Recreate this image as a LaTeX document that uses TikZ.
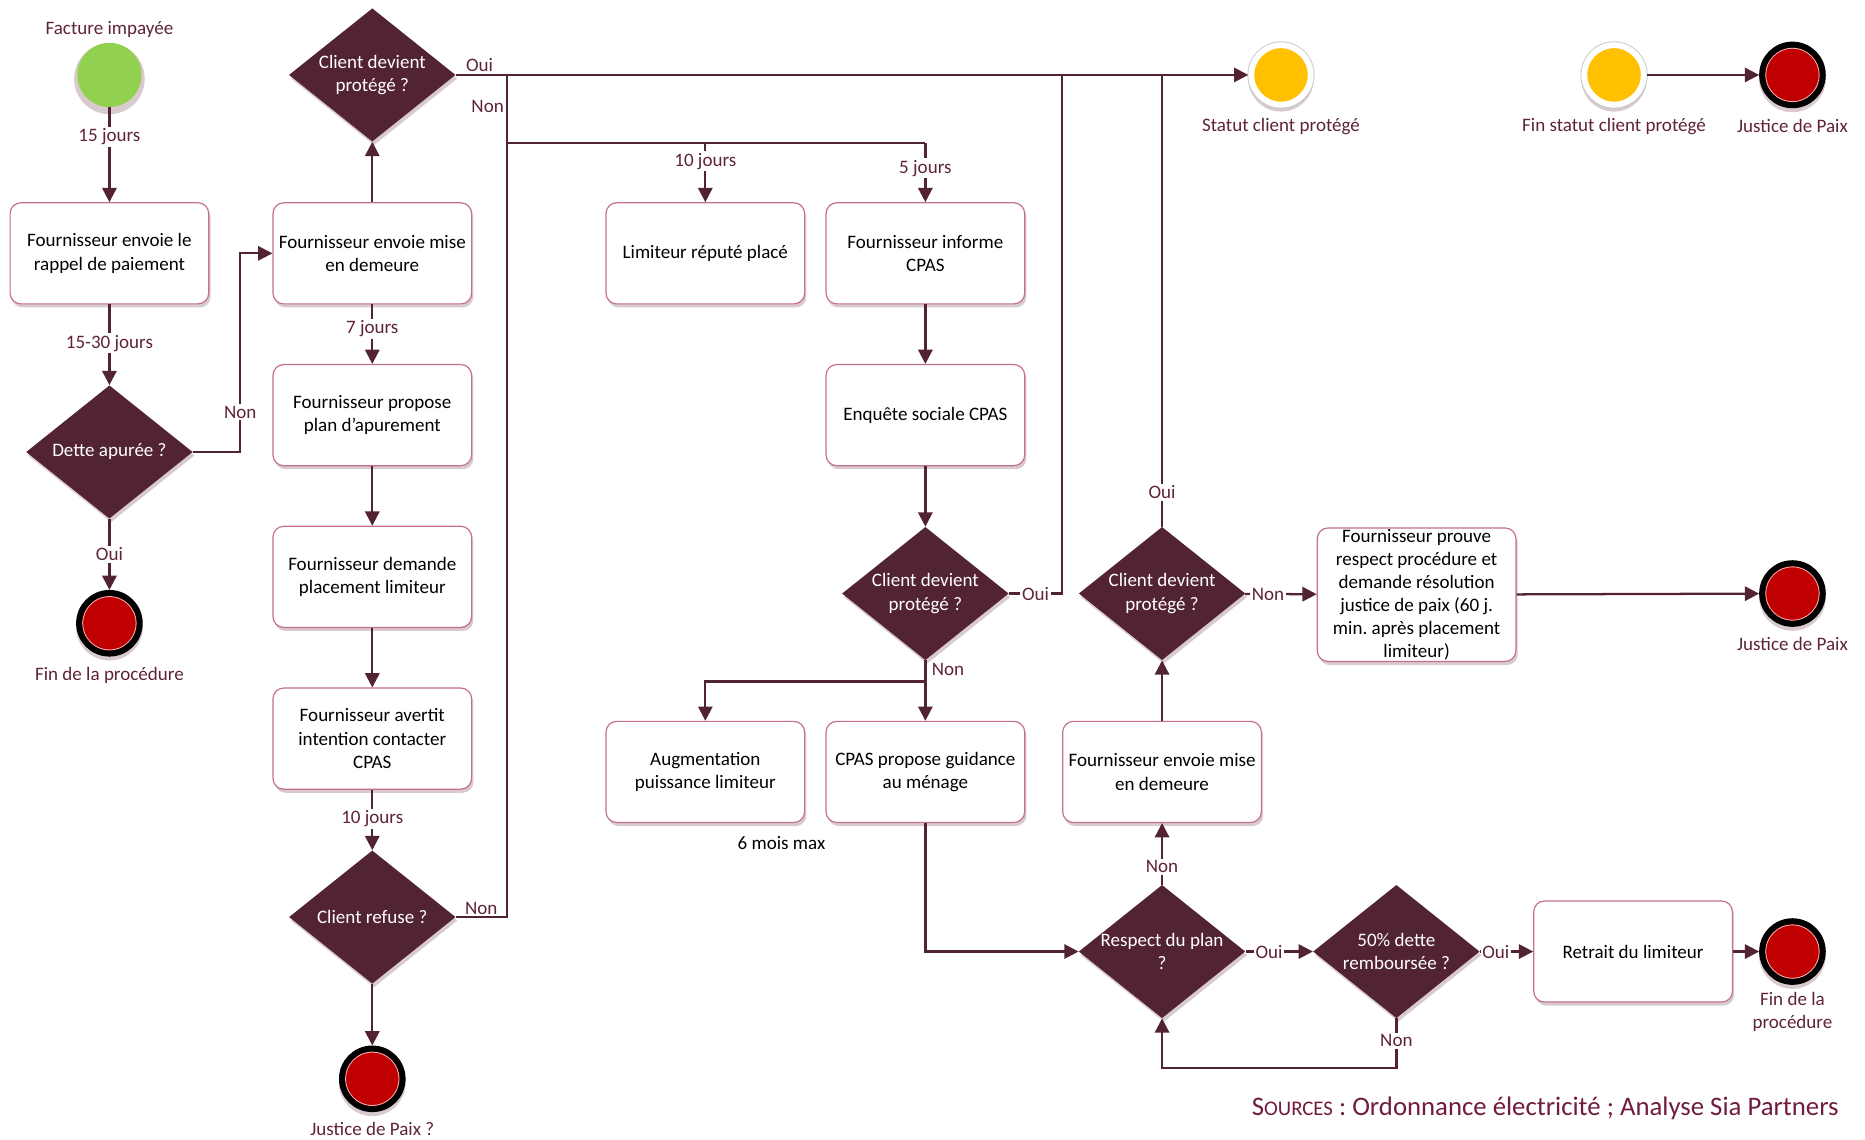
\documentclass[tikz,border=0pt]{standalone}
\usepackage{fontspec}
\setmainfont{Carlito}
\usetikzlibrary{shapes.geometric,arrows.meta,shadows,positioning}
\definecolor{maroon}{RGB}{82,35,50}
\definecolor{labelc}{RGB}{95,35,55}
\definecolor{boxedge}{RGB}{196,112,135}
\definecolor{shadowc}{RGB}{216,202,207}
\definecolor{startgreen}{RGB}{146,208,80}
\definecolor{amber}{RGB}{255,192,0}
\definecolor{stopred}{RGB}{192,0,0}
\definecolor{srcc}{RGB}{112,28,64}
\frenchspacing

\begin{document}
\begin{tikzpicture}[
  x=1pt, y=-1pt,
  every node/.style={font=\fontsize{16}{19.5}\selectfont},
  softshadow/.style={drop shadow={shadow xshift=1.5pt, shadow yshift=-3pt, fill=shadowc, opacity=1}},
  roundshadow/.style={drop shadow={shadow xshift=0pt, shadow yshift=-3pt, shadow scale=1.1, fill=shadowc, opacity=1}},
  task/.style={rectangle, rounded corners=9pt, softshadow, draw=boxedge, line width=1pt, fill=white,
    align=center, minimum width=167pt, minimum height=85pt, inner xsep=2pt},
  decision/.style={diamond, softshadow, fill=maroon, minimum width=140pt, minimum height=112pt, inner sep=0pt},
  dtext/.style={text=white, align=center},
  startstate/.style={circle, roundshadow, fill=startgreen, minimum size=54pt, inner sep=0pt},
  statusstate/.style={circle, roundshadow, preaction={draw=black!22, line width=6.5pt},
    fill=amber, draw=white, line width=5pt, minimum size=50pt, inner sep=0pt},
  endstate/.style={circle, roundshadow, fill=stopred, draw=black, line width=5pt, minimum size=51pt, inner sep=0pt,
    path picture={\draw[white!70!stopred, line width=0.8pt] (path picture bounding box.center) circle (22.5pt);}},
  evlabel/.style={text=labelc, align=center, inner sep=1pt},
  lbl/.style={text=labelc, inner sep=1.5pt},
  lblw/.style={lbl, fill=white},
  line/.style={draw=maroon, line width=1.9pt},
  arr/.style={line, -{Triangle[length=12pt, width=12pt]}}
]
\useasboundingbox (0,0) rectangle (1568,958);

\node[startstate] (start) at (92,63) {};
\node[task] (rappel) at (92,213) {Fournisseur envoie le\\rappel de paiement};
\node[decision, label={[dtext]center:{Dette apurée ?}}] (dette) at (92,380) {};
\node[endstate] (fin1) at (92,524) {};

\node[decision, label={[dtext]center:{Client devient\\protégé ?}}] (cp1) at (313,63) {};
\node[task] (mise1) at (313,213) {Fournisseur envoie mise\\en demeure};
\node[task] (plan) at (313,349) {Fournisseur propose\\plan d’apurement};
\node[task] (limdem) at (313,485) {Fournisseur demande\\placement limiteur};
\node[task] (avert) at (313,621) {Fournisseur avertit\\intention contacter\\CPAS};
\node[decision, label={[dtext]center:{Client refuse ?}}] (refuse) at (313,771) {};
\node[endstate] (jdp1) at (313,907) {};

\node[task] (limplace) at (593,213) {Limiteur réputé placé};
\node[task] (informe) at (778,213) {Fournisseur informe\\CPAS};
\node[task] (enquete) at (778,349) {Enquête sociale CPAS};
\node[decision, label={[dtext]center:{Client devient\\protégé ?}}] (cp2) at (778,499) {};
\node[task] (augm) at (593,649) {Augmentation\\puissance limiteur};
\node[task] (guid) at (778,649) {CPAS propose guidance\\au ménage};
\node (sixmois) at (657,709) {6 mois max};

\node[decision, label={[dtext]center:{Client devient\\protégé ?}}] (cp3) at (977,499) {};
\node[task] (mise2) at (977,649) {Fournisseur envoie mise\\en demeure};
\node[decision, label={[dtext]center:{Respect du plan\\?}}] (resp) at (977,800) {};
\node[decision, label={[dtext]center:{50\% dette\\remboursée ?}}] (remb) at (1174,800) {};
\node[task] (retrait) at (1373,800) {Retrait du limiteur};
\node[endstate] (fin2) at (1507,800) {};
\node[task, inner ysep=1.5pt, font=\fontsize{16}{19.2}\selectfont] (prouve) at (1191,500) {Fournisseur prouve\\respect procédure et\\demande résolution\\justice de paix (60 j.\\min. après placement\\limiteur)};
\node[endstate] (jdp2) at (1507,499) {};

\node[statusstate] (statut) at (1077,63) {};
\node[statusstate] (finstatut) at (1357,63) {};
\node[endstate] (jdp3) at (1507,63) {};

\node[evlabel, above=3pt of start] {Facture impayée};
\node[evlabel, below=8pt of fin1] {Fin de la procédure};
\node[evlabel, below=7pt of jdp1] {Justice de Paix ?};
\node[evlabel, below=8pt of statut] {Statut client protégé};
\node[evlabel, below=8pt of finstatut] {Fin statut client protégé};
\node[evlabel, below=8pt of jdp3] {Justice de Paix};
\node[evlabel, below=8pt of jdp2] {Justice de Paix};
\node[evlabel, below=5pt of fin2] {Fin de la\\procédure};

\coordinate (trunk) at (426,120);
\coordinate (j2) at (893,63);
\coordinate (j3) at (977,63);
\coordinate (split2) at (778,573);

\draw[arr] (start) -- node[lblw, pos=0.31]{15 jours} (rappel);
\draw[arr] (rappel) -- node[lblw, pos=0.48]{15-30 jours} (dette);
\draw[arr] (dette) -- node[lblw]{Oui} (fin1);
\draw[arr] (dette.east) -| node[lblw, pos=0.6]{Non} ([xshift=-27pt]mise1.west) -- (mise1.west);
\draw[arr] (mise1) -- (cp1);
\draw[arr] (mise1) -- node[lblw, pos=0.41]{7 jours} (plan);
\draw[arr] (plan) -- (limdem);
\draw[arr] (limdem) -- (avert);
\draw[arr] (avert) -- node[lblw, pos=0.48]{10 jours} (refuse);
\draw[arr] (refuse) -- (jdp1);

\draw[arr] (cp1.east) -- node[lbl, above, pos=0.03]{Oui} (statut);
\draw[line] (cp1.east -| trunk) -- node[lbl, left, pos=0.47]{Non} (trunk);
\draw[line] (refuse.east) -| node[lbl, above, pos=0.25]{Non} (trunk);
\draw[line] (trunk) -- (trunk -| informe);
\draw[arr] (trunk -| limplace) -- node[lblw, pos=0.31]{10 jours} (limplace);
\draw[arr] (trunk -| informe) -- node[lblw, pos=0.43]{5 jours} (informe);

\draw[arr] (informe) -- (enquete);
\draw[arr] (enquete) -- (cp2);
\draw[line] (cp2.east) -| node[lblw, pos=0.25]{Oui} (j2);
\draw[arr] (cp2) -- node[lbl, right, xshift=3pt, pos=0.15]{Non} (guid);
\draw[arr] (split2) -| (augm);
\draw[arr] (guid) |- (resp);

\draw[arr] (resp) -- node[lblw, pos=0.29]{Non} (mise2);
\draw[arr] (mise2) -- (cp3);
\draw[line] (cp3) -- node[lblw, pos=0.076]{Oui} (j3);
\draw[arr] (cp3) -- node[lblw, pos=0.32]{Non} (prouve);
\draw[arr] (prouve) -- (jdp2);
\draw[arr] (resp) -- node[lblw, pos=0.35]{Oui} (remb);
\draw[arr] (remb) -- node[lblw, pos=0.3]{Oui} (retrait);
\draw[arr] (retrait) -- (fin2);
\draw[arr] (remb.south) -- node[lblw, pos=0.45]{Non} ++(0,42) -| (resp.south);
\draw[arr] (finstatut) -- (jdp3);

\node[anchor=east, inner sep=0pt, text=srcc, font=\fontsize{22.5}{26}\selectfont] (sources) at (1546,932)
  {S{\fontsize{17.5}{20}\selectfont OURCES} : Ordonnance électricité ; Analyse Sia Partners};
\end{tikzpicture}
\end{document}
